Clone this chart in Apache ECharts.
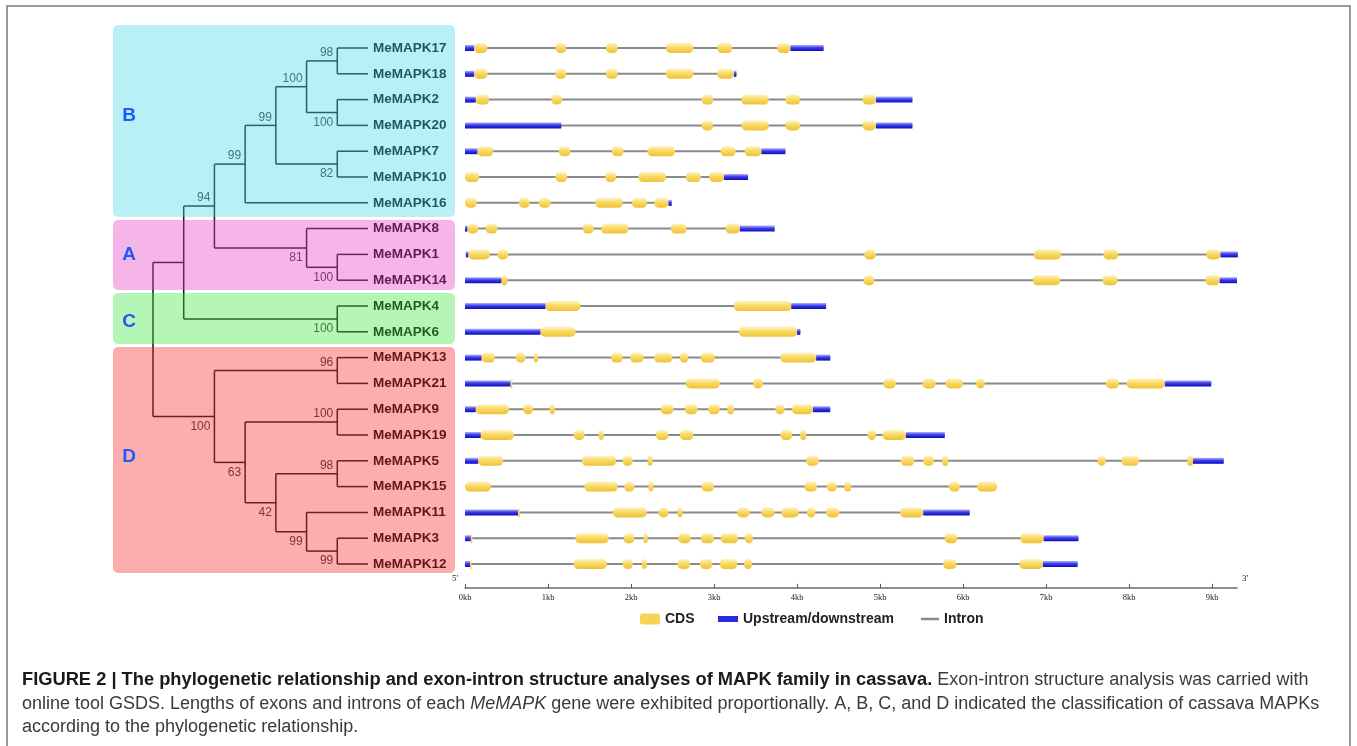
<!DOCTYPE html>
<html>
<head>
<meta charset="utf-8">
<title>MAPK family in cassava</title>
<script src="https://cdn.jsdelivr.net/npm/echarts@6/dist/echarts.min.js"></script>
<style>
  html, body { margin: 0; padding: 0; background: #fff; }
  #chart { width: 1357px; height: 746px; }
</style>
</head>
<body>
<div id="chart"></div>
<script>
// gene order (top to bottom), same for tree tips and gene structures
const genes = ['MeMAPK17', 'MeMAPK18', 'MeMAPK2', 'MeMAPK20', 'MeMAPK7', 'MeMAPK10', 'MeMAPK16',
  'MeMAPK8', 'MeMAPK1', 'MeMAPK14', 'MeMAPK4', 'MeMAPK6',
  'MeMAPK13', 'MeMAPK21', 'MeMAPK9', 'MeMAPK19', 'MeMAPK5', 'MeMAPK15', 'MeMAPK11', 'MeMAPK3', 'MeMAPK12']

// internal nodes: [id, upper child, lower child, depth level, bootstrap]
const cladeNodes = [
  ['n1', 'MeMAPK17', 'MeMAPK18', 6, 98],
  ['n2', 'MeMAPK2', 'MeMAPK20', 6, 100],
  ['n3', 'n1', 'n2', 5, 100],
  ['n4', 'MeMAPK7', 'MeMAPK10', 6, 82],
  ['n5', 'n3', 'n4', 4, 99],
  ['n6', 'n5', 'MeMAPK16', 3, 99],
  ['n7', 'MeMAPK1', 'MeMAPK14', 6, 100],
  ['n8', 'MeMAPK8', 'n7', 5, 81],
  ['n9', 'n6', 'n8', 2, 94],
  ['n10', 'MeMAPK4', 'MeMAPK6', 6, 100],
  ['n11', 'n9', 'n10', 1, null],
  ['n12', 'MeMAPK13', 'MeMAPK21', 6, 96],
  ['n13', 'MeMAPK9', 'MeMAPK19', 6, 100],
  ['n14', 'MeMAPK5', 'MeMAPK15', 6, 98],
  ['n15', 'MeMAPK3', 'MeMAPK12', 6, 99],
  ['n16', 'MeMAPK11', 'n15', 5, 99],
  ['n17', 'n14', 'n16', 4, 42],
  ['n18', 'n13', 'n17', 3, 63],
  ['n19', 'n12', 'n18', 2, 100],
  ['n20', 'n11', 'n19', 0, null]
]
const tipDepth = 7

// exon (CDS) positions in kb, one list per gene
const cdsExons = [
  [[0.11, 0.27], [1.09, 1.22], [1.70, 1.84], [2.42, 2.75], [3.04, 3.22], [3.76, 3.92]],
  [[0.11, 0.27], [1.09, 1.22], [1.70, 1.84], [2.42, 2.75], [3.04, 3.24]],
  [[0.13, 0.29], [1.04, 1.17], [2.85, 2.99], [3.33, 3.66], [3.86, 4.04], [4.79, 4.95]],
  [[2.85, 2.99], [3.33, 3.66], [3.86, 4.04], [4.79, 4.95]],
  [[0.15, 0.34], [1.13, 1.27], [1.77, 1.91], [2.20, 2.53], [3.08, 3.26], [3.37, 3.57]],
  [[0, 0.17], [1.09, 1.23], [1.69, 1.82], [2.09, 2.42], [2.66, 2.84], [2.94, 3.12]],
  [[0, 0.14], [0.65, 0.78], [0.89, 1.03], [1.57, 1.90], [2.01, 2.19], [2.28, 2.45]],
  [[0.03, 0.16], [0.25, 0.39], [1.42, 1.55], [1.64, 1.97], [2.48, 2.67], [3.14, 3.31]],
  [[0.04, 0.30], [0.39, 0.52], [4.81, 4.95], [6.85, 7.18], [7.69, 7.87], [8.93, 9.10]],
  [[0.44, 0.51], [4.80, 4.93], [6.84, 7.17], [7.68, 7.86], [8.92, 9.09]],
  [[0.97, 1.39], [3.24, 3.93]],
  [[0.91, 1.33], [3.30, 4.00]],
  [[0.20, 0.36], [0.61, 0.73], [0.83, 0.88], [1.76, 1.90], [1.99, 2.15], [2.28, 2.50], [2.59, 2.69], [2.84, 3.01], [3.80, 4.23]],
  [[0.55, 0.57], [2.66, 3.07], [3.47, 3.59], [5.04, 5.19], [5.51, 5.67], [5.79, 6.00], [6.16, 6.26], [7.72, 7.88], [7.97, 8.43]],
  [[0.13, 0.53], [0.70, 0.82], [1.02, 1.08], [2.36, 2.51], [2.65, 2.80], [2.93, 3.07], [3.16, 3.24], [3.74, 3.85], [3.94, 4.19]],
  [[0.19, 0.59], [1.31, 1.44], [1.61, 1.67], [2.30, 2.45], [2.59, 2.75], [3.80, 3.94], [4.04, 4.11], [4.85, 4.95], [5.03, 5.31]],
  [[0.16, 0.46], [1.41, 1.82], [1.90, 2.02], [2.20, 2.26], [4.11, 4.26], [5.25, 5.41], [5.52, 5.65], [5.75, 5.82], [7.62, 7.72], [7.91, 8.12], [8.70, 8.77]],
  [[0, 0.31], [1.44, 1.84], [1.92, 2.04], [2.21, 2.27], [2.85, 3.00], [4.09, 4.24], [4.36, 4.48], [4.57, 4.65], [5.83, 5.96], [6.17, 6.41]],
  [[0.64, 0.66], [1.78, 2.19], [2.33, 2.45], [2.56, 2.62], [3.28, 3.43], [3.57, 3.73], [3.81, 4.02], [4.12, 4.22], [4.35, 4.51], [5.24, 5.52]],
  [[0.07, 0.08], [1.33, 1.73], [1.91, 2.04], [2.15, 2.20], [2.57, 2.72], [2.84, 3.00], [3.08, 3.29], [3.37, 3.47], [5.78, 5.93], [6.69, 6.97]],
  [[0.06, 0.07], [1.31, 1.71], [1.90, 2.02], [2.13, 2.19], [2.56, 2.71], [2.83, 2.98], [3.07, 3.28], [3.36, 3.46], [5.76, 5.92], [6.68, 6.96]]
]

// upstream / downstream (UTR) positions in kb
const utrParts = [
  [[0, 0.11], [3.92, 4.32]],
  [[0, 0.11], [3.24, 3.27]],
  [[0, 0.13], [4.95, 5.39]],
  [[0, 1.16], [4.95, 5.39]],
  [[0, 0.15], [3.57, 3.86]],
  [[3.12, 3.41]],
  [[2.45, 2.49]],
  [[0, 0.03], [3.31, 3.73]],
  [[0.01, 0.04], [9.10, 9.31]],
  [[0, 0.44], [9.09, 9.30]],
  [[0, 0.97], [3.93, 4.35]],
  [[0, 0.91], [4.00, 4.04]],
  [[0, 0.20], [4.23, 4.40]],
  [[0, 0.55], [8.43, 8.99]],
  [[0, 0.13], [4.19, 4.40]],
  [[0, 0.19], [5.31, 5.78]],
  [[0, 0.16], [8.77, 9.14]],
  [],
  [[0, 0.64], [5.52, 6.08]],
  [[0, 0.07], [6.97, 7.39]],
  [[0, 0.06], [6.96, 7.38]]
]

const kbTicks = [0, 1, 2, 3, 4, 5, 6, 7, 8, 9]

// ---- build tree geometry from the node table ----
const nodeY = {}
const nodeDepth = {}
genes.forEach((g, i) => { nodeY[g] = i; nodeDepth[g] = tipDepth })
cladeNodes.forEach(([id, a, b, d]) => {
  nodeY[id] = (nodeY[a] + nodeY[b]) / 2
  nodeDepth[id] = d
})
const treeSegments = []
cladeNodes.forEach(([id, a, b, d]) => {
  treeSegments.push([d, nodeY[a], d, nodeY[b]])
  treeSegments.push([d, nodeY[a], nodeDepth[a], nodeY[a]])
  treeSegments.push([d, nodeY[b], nodeDepth[b], nodeY[b]])
})
const bootLabels = []
cladeNodes.forEach(([id, a, b, d, boot]) => {
  if (boot == null) return
  const parent = cladeNodes.find(n => n[1] === id || n[2] === id)
  const above = parent && parent[1] === id ? 1 : 0
  bootLabels.push([d, nodeY[id], boot, above])
})

// ---- gene structure items ----
const intronData = []
const utrData = []
const cdsData = []
genes.forEach((g, i) => {
  const all = cdsExons[i].concat(utrParts[i])
  const s = Math.min(...all.map(p => p[0]))
  const e = Math.max(...all.map(p => p[1]))
  intronData.push([s, e, i])
  utrParts[i].forEach(p => utrData.push([p[0], p[1], i]))
  cdsExons[i].forEach(p => cdsData.push([p[0], p[1], i]))
})

const cdsFill = new echarts.graphic.LinearGradient(0, 0, 0, 1, [
  { offset: 0, color: '#fff3c0' },
  { offset: 0.45, color: '#f9da66' },
  { offset: 1, color: '#efc235' }
])
const utrFill = new echarts.graphic.LinearGradient(0, 0, 0, 1, [
  { offset: 0, color: '#b4b4ff' },
  { offset: 0.45, color: '#3c3cea' },
  { offset: 1, color: '#0c0cbc' }
])

function spanItem(h, fill, round) {
  return function (params, api) {
    const a = api.coord([api.value(0), api.value(2)])
    const b = api.coord([api.value(1), api.value(2)])
    const w = Math.max(b[0] - a[0], 1.5)
    return {
      type: 'rect',
      shape: { x: a[0], y: a[1] - h / 2, width: w, height: h, r: round ? Math.min(4.5, w / 2) : 0 },
      style: { fill: fill }
    }
  }
}

const chart = echarts.init(document.getElementById('chart'))

const gridTop = 35.1
const gridHeight = 541.8
const labelFont = { fontSize: 14, fontWeight: 'bold', color: '#222', fontFamily: 'Liberation Sans' }

const option = {
  backgroundColor: '#fff',
  animation: false,
  grid: [
    { left: 153, top: gridTop, width: 215, height: gridHeight },
    { left: 465, top: gridTop, width: 772, height: gridHeight }
  ],
  xAxis: [
    { gridIndex: 0, type: 'value', min: 0, max: tipDepth, show: false },
    {
      gridIndex: 1,
      type: 'value',
      min: 0,
      max: 9.3,
      interval: 1,
      position: 'bottom',
      offset: 11,
      axisLine: { onZero: false, lineStyle: { color: '#6a6a6a', width: 1.5 } },
      axisTick: { inside: true, length: 4, lineStyle: { color: '#555' } },
      axisLabel: {
        margin: 5,
        fontSize: 8.5,
        fontFamily: 'Liberation Serif',
        color: '#222',
        showMaxLabel: false,
        formatter(v) {
          return kbTicks.indexOf(v) >= 0 ? v + 'kb' : ''
        }
      },
      splitLine: { show: false }
    }
  ],
  yAxis: [
    { gridIndex: 0, type: 'value', min: -0.5, max: 20.5, inverse: true, show: false },
    { gridIndex: 1, type: 'value', min: -0.5, max: 20.5, inverse: true, show: false },
    {
      gridIndex: 0,
      type: 'category',
      data: genes,
      inverse: true,
      position: 'right',
      axisLine: { show: false },
      axisTick: { show: false },
      axisLabel: {
        margin: 5,
        fontSize: 13.5,
        fontWeight: 'bold',
        fontFamily: 'Liberation Sans',
        color: '#000'
      }
    }
  ],
  legend: [
    {
      data: ['CDS'], left: 640, top: 612, padding: 0, selectedMode: false,
      icon: 'roundRect', itemWidth: 20, itemHeight: 11, textStyle: labelFont
    },
    {
      data: ['Upstream/downstream'], left: 718, top: 612, padding: 0, selectedMode: false,
      icon: 'rect', itemWidth: 20, itemHeight: 6, textStyle: labelFont
    },
    {
      data: ['Intron'], left: 921, top: 612, padding: 0, selectedMode: false,
      icon: 'rect', itemWidth: 18, itemHeight: 2.5, textStyle: labelFont
    }
  ],
  series: [
    {
      name: 'tree',
      type: 'custom',
      xAxisIndex: 0,
      yAxisIndex: 0,
      silent: true,
      data: treeSegments,
      renderItem(params, api) {
        const p1 = api.coord([api.value(0), api.value(1)])
        const p2 = api.coord([api.value(2), api.value(3)])
        return {
          type: 'line',
          shape: { x1: p1[0], y1: p1[1], x2: p2[0], y2: p2[1] },
          style: { stroke: '#111', lineWidth: 1.5 }
        }
      }
    },
    {
      name: 'bootstrap',
      type: 'custom',
      xAxisIndex: 0,
      yAxisIndex: 0,
      silent: true,
      data: bootLabels,
      renderItem(params, api) {
        const p = api.coord([api.value(0), api.value(1)])
        const above = api.value(3) === 1
        return {
          type: 'text',
          x: p[0] - 4,
          y: above ? p[1] - 2 : p[1] + 4,
          style: {
            text: String(api.value(2)),
            font: '12px "Liberation Sans"',
            fill: '#333',
            align: 'right',
            verticalAlign: above ? 'bottom' : 'top',
            textAlign: 'right',
            textVerticalAlign: above ? 'bottom' : 'top'
          }
        }
      }
    },
    {
      name: 'Intron',
      type: 'custom',
      xAxisIndex: 1,
      yAxisIndex: 1,
      silent: true,
      itemStyle: { color: '#888' },
      data: intronData,
      renderItem(params, api) {
        const a = api.coord([api.value(0), api.value(2)])
        const b = api.coord([api.value(1), api.value(2)])
        return {
          type: 'line',
          shape: { x1: a[0], y1: a[1], x2: b[0], y2: b[1] },
          style: { stroke: '#8a8a8a', lineWidth: 2 }
        }
      }
    },
    {
      name: 'Upstream/downstream',
      type: 'custom',
      xAxisIndex: 1,
      yAxisIndex: 1,
      silent: true,
      itemStyle: { color: '#2a2ae0' },
      data: utrData,
      renderItem: spanItem(6, utrFill, false)
    },
    {
      name: 'CDS',
      type: 'custom',
      xAxisIndex: 1,
      yAxisIndex: 1,
      silent: true,
      itemStyle: { color: '#f7d257' },
      data: cdsData,
      renderItem: spanItem(10, cdsFill, true)
    }
  ],
  graphic: [
    // figure frame
    { type: 'rect', silent: true, z: 0, shape: { x: 7, y: 6, width: 1343, height: 790 },
      style: { fill: 'none', stroke: '#7a7a7a', lineWidth: 1.5 } },
    // clade boxes (laid over the tree, tinted)
    { type: 'rect', silent: true, z: 50, shape: { x: 113, y: 25, width: 342, height: 192, r: 5 },
      style: { fill: 'rgba(77,217,232,0.4)' } },
    { type: 'rect', silent: true, z: 50, shape: { x: 113, y: 220, width: 342, height: 70, r: 5 },
      style: { fill: 'rgba(230,70,197,0.4)' } },
    { type: 'rect', silent: true, z: 50, shape: { x: 113, y: 293, width: 342, height: 51, r: 5 },
      style: { fill: 'rgba(70,230,70,0.4)' } },
    { type: 'rect', silent: true, z: 50, shape: { x: 113, y: 347, width: 342, height: 226, r: 5 },
      style: { fill: 'rgba(247,52,52,0.4)' } },
    // clade letters
    { type: 'text', z: 60, x: 129, y: 116, style: { text: 'B', font: 'bold 19px "Liberation Sans"', fill: '#1c5aff', align: 'center', verticalAlign: 'middle' } },
    { type: 'text', z: 60, x: 129, y: 255, style: { text: 'A', font: 'bold 19px "Liberation Sans"', fill: '#1c5aff', align: 'center', verticalAlign: 'middle' } },
    { type: 'text', z: 60, x: 129, y: 322, style: { text: 'C', font: 'bold 19px "Liberation Sans"', fill: '#1c5aff', align: 'center', verticalAlign: 'middle' } },
    { type: 'text', z: 60, x: 129, y: 457, style: { text: 'D', font: 'bold 19px "Liberation Sans"', fill: '#1c5aff', align: 'center', verticalAlign: 'middle' } },
    // 5' / 3'
    { type: 'text', z: 60, x: 455, y: 579, style: { text: "5'", font: '9px "Liberation Serif"', fill: '#222', align: 'center', verticalAlign: 'middle' } },
    { type: 'text', z: 60, x: 1245, y: 579, style: { text: "3'", font: '9px "Liberation Serif"', fill: '#222', align: 'center', verticalAlign: 'middle' } },
    // caption
    { type: 'text', z: 60, left: 22, top: 671, style: {
      text: '{b|FIGURE 2 | The phylogenetic relationship and exon-intron structure analyses of MAPK family in cassava.} Exon-intron structure analysis was carried with',
      font: '18px "Liberation Sans"', fill: '#3a3a3a',
      rich: { b: { fontWeight: 'bold', fontSize: 18.3, fontFamily: 'Liberation Sans', fill: '#1a1a1a' } }
    } },
    { type: 'text', z: 60, left: 22, top: 695, style: {
      text: 'online tool GSDS. Lengths of exons and introns of each {i|MeMAPK} gene were exhibited proportionally. A, B, C, and D indicated the classification of cassava MAPKs',
      font: '18px "Liberation Sans"', fill: '#3a3a3a',
      rich: { i: { fontStyle: 'italic', fontSize: 18, fontFamily: 'Liberation Sans', fill: '#3a3a3a' } }
    } },
    { type: 'text', z: 60, left: 22, top: 718, style: {
      text: 'according to the phylogenetic relationship.',
      font: '18px "Liberation Sans"', fill: '#3a3a3a'
    } }
  ]
}

chart.setOption(option)
</script>
</body>
</html>
